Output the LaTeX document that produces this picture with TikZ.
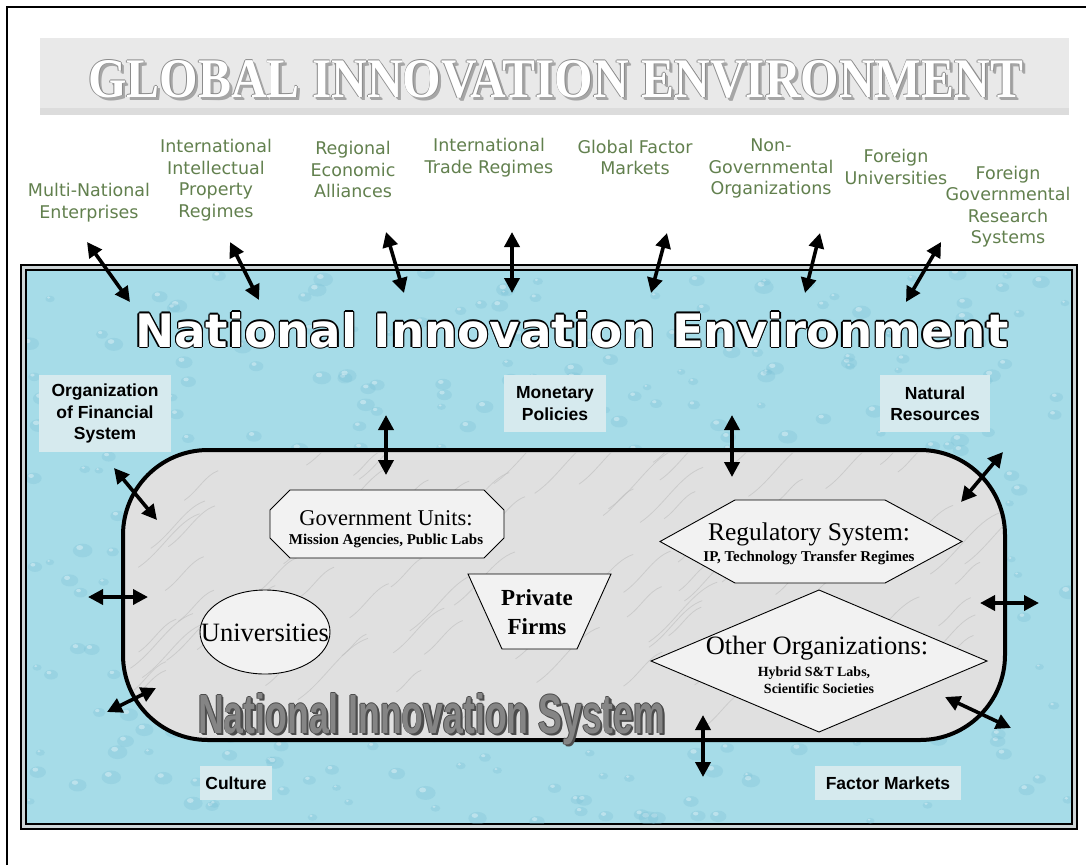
\documentclass[tikz,border=0pt]{standalone}
\usepackage{fontspec}
\usepackage{graphicx}
\setmainfont{Liberation Serif}
\newfontfamily\tah{DejaVu Sans}
\newfontfamily\ari{Liberation Sans}
\newfontfamily\dvs{DejaVu Sans}
\usetikzlibrary{arrows.meta}
\definecolor{envblue}{RGB}{166,220,232}
\definecolor{droplet}{RGB}{120,190,212}
\definecolor{labgreen}{RGB}{98,128,78}
\definecolor{marble}{RGB}{224,224,224}
\definecolor{vein}{RGB}{190,190,190}
\definecolor{shapefill}{RGB}{242,242,242}
\definecolor{labbox}{RGB}{214,234,238}
\definecolor{bannergray}{RGB}{233,233,233}
\definecolor{bannerdark}{RGB}{220,220,220}
\definecolor{borderfill}{RGB}{206,214,216}
\tikzset{
  globlab/.style={text=labgreen, font=\tah\fontsize{17.5}{21.5}\selectfont, align=center, inner sep=0pt},
  envlab/.style={font=\ari\bfseries\fontsize{17.5}{21.5}\selectfont, align=center, fill=labbox, inner sep=0pt},
  shapeline/.style={draw=black, line width=0.9pt, fill=shapefill},
  shapetitle/.style={inner sep=0pt, font=\fontsize{25.5}{27}\selectfont},
  shapesub/.style={inner sep=0pt, font=\bfseries\fontsize{15}{16}\selectfont},
  dbl/.style={line width=3.6pt, {Triangle[length=15pt,width=15pt]}-{Triangle[length=15pt,width=15pt]}},
  bigtxt/.style={anchor=base west, inner sep=0pt}
}
\begin{document}
\begin{tikzpicture}[x=1pt,y=-1pt]
\useasboundingbox (0,0) rectangle (1086,865);
\fill[white] (0,0) rectangle (1086,865);
% page frame
\draw[line width=2.5pt] (7,865) -- (7,7) -- (1086,7);
% title banner
\fill[bannergray] (40,38) rectangle (1069,115);
\fill[bannerdark] (40,108) rectangle (1069,115);
\foreach \dx/\dy in {2.5/2.5,3/3}
  \node[bigtxt, text=black!35] at (88+\dx,97+\dy) {\resizebox{935pt}{37pt}{\bfseries GLOBAL INNOVATION ENVIRONMENT}};
\foreach \dx/\dy in {-0.8/0,0.8/0,0/-0.8,0/0.8}
  \node[bigtxt, text=black!45] at (88+\dx,97+\dy) {\resizebox{935pt}{37pt}{\bfseries GLOBAL INNOVATION ENVIRONMENT}};
\node (gie) [bigtxt, text=white] at (88,97) {\resizebox{935pt}{37pt}{\bfseries GLOBAL INNOVATION ENVIRONMENT}};
% global labels
\node (mne)  [globlab] at (89,202.5)  {Multi-National\\Enterprises};
\node (iipr) [globlab] at (216,180)   {International\\Intellectual\\Property\\Regimes};
\node (rea)  [globlab] at (353,169.5) {Regional\\Economic\\Alliances};
\node (itr)  [globlab] at (489,157.5) {International\\Trade Regimes};
\node (gfm)  [globlab] at (635,157.5) {Global Factor\\Markets};
\node (ngo)  [globlab] at (771,168.5) {Non-\\Governmental\\Organizations};
\node (fu)   [globlab] at (896,167)   {Foreign\\Universities};
\node (fgrs) [globlab] at (1008,206.5){Foreign\\Governmental\\Research\\Systems};
% national innovation environment box
\draw[line width=2pt, fill=borderfill] (21,265) rectangle (1077,829);
\draw[line width=1.5pt, fill=envblue] (26,270) rectangle (1072,824);
\begin{scope}
  \clip (27,271) rectangle (1071,823);
  \pgfmathsetseed{7}
  \foreach \k in {1,...,420} {
    \pgfmathsetmacro{\px}{30+1040*rnd}
    \pgfmathsetmacro{\py}{272+550*rnd}
    \pgfmathsetmacro{\rx}{4+6*rnd}
    \fill[droplet, opacity=0.28] (\px,\py) ellipse [x radius=\rx, y radius=0.7*\rx];
    \fill[white, opacity=0.35] (\px-0.3*\rx,\py-0.3*\rx) ellipse [x radius=0.35*\rx, y radius=0.25*\rx];
  }
\end{scope}
\foreach \dx/\dy in {-1.3/0,1.3/0,0/-1.3,0/1.3,-0.95/-0.95,0.95/-0.95,-0.95/0.95,0.95/0.95}
  \node[bigtxt, text=black] at (135+\dx,347+\dy) {\resizebox{873pt}{35pt}{\dvs\bfseries National Innovation Environment}};
\node (nie) [bigtxt, text=white] at (135,347) {\resizebox{873pt}{35pt}{\dvs\bfseries National Innovation Environment}};
% environment labels
\node (ofs) [envlab, minimum width=132pt, minimum height=77pt] at (105,413.5) {Organization\\of Financial\\System};
\node (mon) [envlab, minimum width=102pt, minimum height=57pt] at (555,403.5) {Monetary\\Policies};
\node (nat) [envlab, minimum width=110pt, minimum height=57pt] at (935,403.5) {Natural\\Resources};
\node (cul) [envlab, minimum width=72pt, minimum height=34pt] at (236,783) {Culture};
\node (fac) [envlab, minimum width=146pt, minimum height=34pt] at (888,783) {Factor Markets};
% national innovation system
\draw[line width=4pt, fill=marble, rounded corners=85pt] (123,450) rectangle (1005,740);
\begin{scope}
  \clip[rounded corners=85pt] (125,452) rectangle (1003,738);
  \pgfmathsetseed{11}
  \foreach \k in {1,...,90} {
    \pgfmathsetmacro{\px}{125+880*rnd}
    \pgfmathsetmacro{\py}{452+290*rnd}
    \pgfmathsetmacro{\ln}{30+60*rnd}
    \draw[vein, line width=0.8pt, opacity=0.6] (\px,\py) .. controls (\px+0.3*\ln,\py-0.2*\ln) and (\px+0.5*\ln,\py-0.6*\ln) .. (\px+0.8*\ln,\py-0.7*\ln);
  }
\end{scope}
\foreach \dx/\dy in {1.6/1.6,2.2/2.2,-0.8/0,0.8/0,0/-0.8,0/0.8}
  \node[bigtxt, text=black!70] at (198+\dx,733+\dy) {\resizebox{467pt}{40pt}{\ari\bfseries National Innovation System}};
\node (nis) [bigtxt, text=black!48] at (198,733) {\resizebox{467pt}{40pt}{\ari\bfseries National Innovation System}};
% inner shapes
\draw[shapeline] (290,490) -- (484,490) -- (504,510) -- (504,538) -- (484,558) -- (290,558) -- (270,538) -- (270,510) -- cycle;
\node (gov) [shapetitle, font=\fontsize{22.5}{24}\selectfont] at (386,518) {Government Units:};
\node (govsub) [shapesub] at (386,541) {Mission Agencies, Public Labs};
\draw[shapeline] (660,541.5) -- (735,500) -- (885,500) -- (962,541.5) -- (885,583) -- (735,583) -- cycle;
\node (reg) [shapetitle] at (809,534) {Regulatory System:};
\node (regsub) [shapesub] at (809,558) {IP, Technology Transfer Regimes};
\draw[shapeline] (651,661) -- (819,590) -- (987,661) -- (819,732) -- cycle;
\node (oth) [shapetitle, font=\fontsize{26.5}{28}\selectfont] at (817,648) {Other Organizations:};
\node (othsub1) [shapesub, font=\bfseries\fontsize{14}{15}\selectfont] at (814,673) {Hybrid S\&T Labs,};
\node (othsub2) [shapesub, font=\bfseries\fontsize{14}{15}\selectfont] at (819,689) {Scientific Societies};
\draw[shapeline] (265,632) ellipse [x radius=65, y radius=42];
\node (uni) [shapetitle, font=\fontsize{26.5}{28}\selectfont] at (265,633) {Universities};
\draw[shapeline] (468,574) -- (611,574) -- (577,649) -- (502,649) -- cycle;
\node (pf1) [inner sep=0pt, font=\bfseries\fontsize{23}{25}\selectfont] at (537,598) {Private};
\node (pf2) [inner sep=0pt, font=\bfseries\fontsize{23}{25}\selectfont] at (537,627) {Firms};
% arrow end points
\coordinate (a1) at (87,242);   \coordinate (b1) at (130,302);
\coordinate (a2) at (230,242);  \coordinate (b2) at (259,300);
\coordinate (a3) at (386,232);  \coordinate (b3) at (404,293);
\coordinate (a4) at (512,232);  \coordinate (b4) at (512,293);
\coordinate (a5) at (667,233);  \coordinate (b5) at (651,293);
\coordinate (a6) at (820,233);  \coordinate (b6) at (805,293);
\coordinate (a7) at (941,242);  \coordinate (b7) at (906,302);
\coordinate (a8) at (386,415);  \coordinate (b8) at (386,475);
\coordinate (a9) at (732,415);  \coordinate (b9) at (732,477);
\coordinate (a10) at (114,468); \coordinate (b10) at (157,520);
\coordinate (a11) at (1003,452);\coordinate (b11) at (961,502);
\coordinate (a12) at (88,597);  \coordinate (b12) at (148,597);
\coordinate (a13) at (980,603); \coordinate (b13) at (1039,603);
\coordinate (a14) at (107,712); \coordinate (b14) at (156,688);
\coordinate (a15) at (703,715); \coordinate (b15) at (703,777);
\coordinate (a16) at (945,697); \coordinate (b16) at (1011,728);
\foreach \i in {1,...,16} \draw[dbl] (a\i) -- (b\i);
\end{tikzpicture}
\end{document}
